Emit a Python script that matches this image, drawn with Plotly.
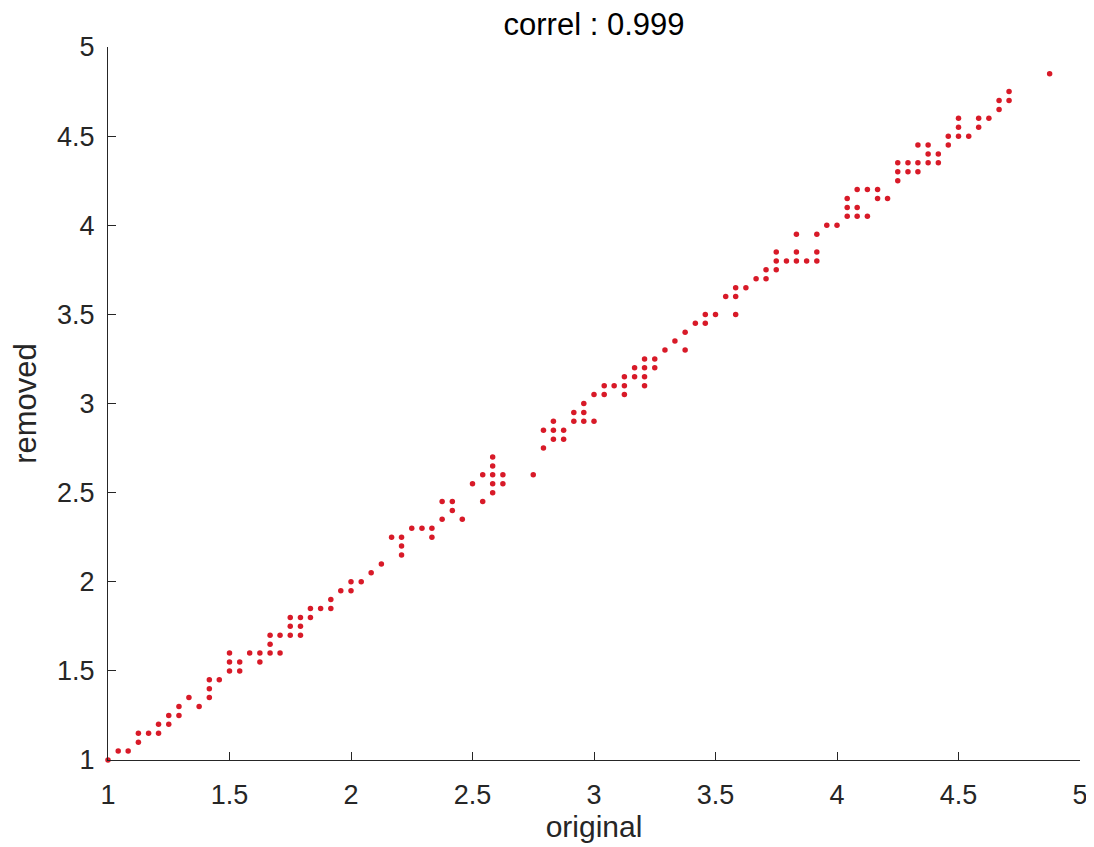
import plotly.graph_objects as go

# Values
original = [
    1.000, 1.042, 1.083, 1.125, 1.125, 1.167, 1.208, 1.208, 1.250, 1.250, 1.292,
    1.292, 1.333, 1.375, 1.417, 1.417, 1.417, 1.458, 1.500, 1.542, 1.500, 1.542,
    1.500, 1.583, 1.625, 1.625, 1.667, 1.708, 1.667, 1.667, 1.708, 1.750, 1.792,
    1.750, 1.792, 1.750, 1.792, 1.833, 1.833, 1.875, 1.917, 1.917, 1.958,
    2.000, 2.000, 2.042, 2.083, 2.125, 2.167, 2.208, 2.208, 2.208, 2.250, 2.292,
    2.333, 2.333, 2.375, 2.375, 2.417, 2.417, 2.458, 2.500, 2.542, 2.542, 2.583,
    2.583, 2.583, 2.625, 2.583, 2.625, 2.583, 2.750, 2.792, 2.792, 2.833, 2.875,
    2.833, 2.875, 2.833,
    2.917, 2.958, 3.000, 2.917, 2.958, 2.958, 3.000, 3.042, 3.042, 3.083, 3.125,
    3.125, 3.125, 3.167, 3.208, 3.208, 3.167, 3.208, 3.250, 3.208, 3.250, 3.292,
    3.333, 3.375, 3.375, 3.417, 3.458, 3.458, 3.500, 3.542, 3.583, 3.583, 3.583,
    3.625, 3.667, 3.708,
    3.708, 3.750, 3.750, 3.792, 3.833, 3.875, 3.917, 3.750, 3.833, 3.917, 3.833,
    3.917, 3.958, 4.000, 4.042, 4.083, 4.125, 4.042, 4.083, 4.042, 4.083, 4.125,
    4.167, 4.167, 4.208, 4.250, 4.250, 4.292, 4.333, 4.250, 4.292, 4.333, 4.375,
    4.417, 4.375, 4.417, 4.333, 4.375, 4.458, 4.458, 4.500, 4.542, 4.500, 4.583,
    4.500, 4.583, 4.625, 4.667, 4.667, 4.708, 4.708, 4.875,
]
removed = [
    1.00, 1.05, 1.05, 1.10, 1.15, 1.15, 1.15, 1.20, 1.20, 1.25, 1.25,
    1.30, 1.35, 1.30, 1.35, 1.40, 1.45, 1.45, 1.50, 1.50, 1.55, 1.55,
    1.60, 1.60, 1.60, 1.55, 1.60, 1.60, 1.65, 1.70, 1.70, 1.70, 1.70,
    1.75, 1.75, 1.80, 1.80, 1.80, 1.85, 1.85, 1.85, 1.90, 1.95,
    1.95, 2.00, 2.00, 2.05, 2.10, 2.25, 2.25, 2.20, 2.15, 2.30, 2.30,
    2.30, 2.25, 2.35, 2.45, 2.45, 2.40, 2.35, 2.55, 2.60, 2.45, 2.70,
    2.65, 2.60, 2.60, 2.55, 2.55, 2.50, 2.60, 2.75, 2.85, 2.85, 2.85,
    2.80, 2.80, 2.90,
    2.90, 2.90, 2.90, 2.95, 2.95, 3.00, 3.05, 3.05, 3.10, 3.10, 3.10,
    3.05, 3.15, 3.15, 3.15, 3.10, 3.20, 3.20, 3.20, 3.25, 3.25, 3.30,
    3.35, 3.40, 3.30, 3.45, 3.45, 3.50, 3.50, 3.60, 3.60, 3.50, 3.65,
    3.65, 3.70, 3.70,
    3.75, 3.75, 3.80, 3.80, 3.80, 3.80, 3.80, 3.85, 3.85, 3.85, 3.95,
    3.95, 4.00, 4.00, 4.05, 4.05, 4.05, 4.10, 4.10, 4.15, 4.20, 4.20,
    4.20, 4.15, 4.15, 4.25, 4.30, 4.30, 4.30, 4.35, 4.35, 4.35, 4.35,
    4.35, 4.40, 4.40, 4.45, 4.45, 4.45, 4.50, 4.50, 4.50, 4.55, 4.55,
    4.60, 4.60, 4.60, 4.65, 4.70, 4.70, 4.75, 4.85,
]
tick_vals = [1, 1.5, 2, 2.5, 3, 3.5, 4, 4.5, 5]
tick_text = ["1", "1.5", "2", "2.5", "3", "3.5", "4", "4.5", "5"]
title_text = "correl : 0.999"
x_label = "original"
y_label = "removed"

FONT = "Liberation Sans, Arial, Helvetica, sans-serif"
AX = "#262626"

fig = go.Figure()
fig.add_trace(go.Scatter(
    x=original, y=removed, mode="markers",
    marker=dict(color="#d81a28", size=5.5, line=dict(width=0)),
    cliponaxis=False, showlegend=False,
))

axis_common = dict(
    range=[1, 5], tickvals=tick_vals, ticktext=tick_text,
    showline=True, linecolor=AX, linewidth=1,
    ticks="inside", ticklen=8, tickcolor=AX, tickwidth=1,
    showgrid=False, zeroline=False,
    tickfont=dict(family=FONT, size=27, color=AX),
)

# the page body adds an 8px offset; margins compensate for it
fig.update_layout(
    width=1094, height=847,
    margin=dict(l=100, r=22, t=39, b=95),
    paper_bgcolor="white", plot_bgcolor="white",
    title=dict(text=title_text, x=0.5, xref="paper", xanchor="center",
               y=1 - 16 / 847, yref="container", yanchor="middle",
               font=dict(family=FONT, size=31, color="black")),
    xaxis=dict(**axis_common, ticklabelstandoff=11,
               title=dict(text=x_label, standoff=5,
                          font=dict(family=FONT, size=30, color=AX))),
    yaxis=dict(**axis_common, ticklabelstandoff=7,
               title=dict(text=y_label, standoff=16,
                          font=dict(family=FONT, size=31, color=AX))),
)

fig.write_html("out.html")
